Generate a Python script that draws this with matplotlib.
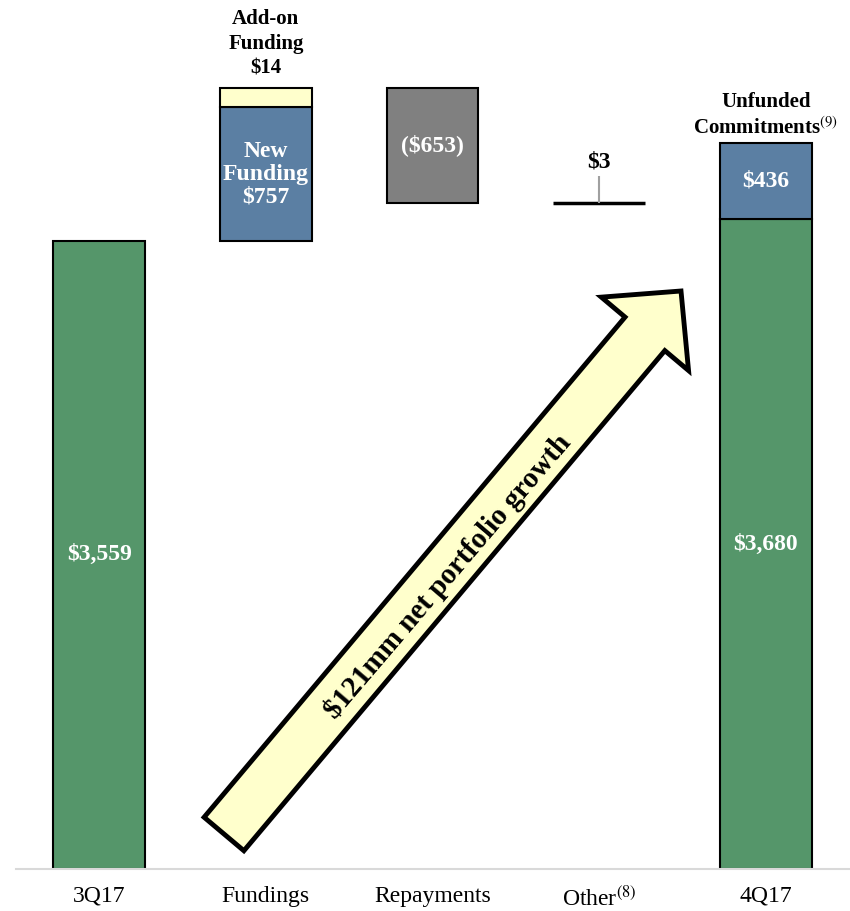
import matplotlib
matplotlib.use("Agg")
import matplotlib.pyplot as plt
from matplotlib.patches import FancyArrow

plt.rcParams['font.family'] = 'Liberation Serif'
plt.rcParams['mathtext.fontset'] = 'stix'

# Data ($mm)
categories = ['3Q17', 'Fundings', 'Repayments', 'Other$^{(8)}$', '4Q17']
start_balance = 3559
new_funding = 757
addon_funding = 14
repayments = -653
other = 3
end_balance = 3680
unfunded = 436

# Colours
green = '#55966A'
blue = '#5B7FA3'
grey = '#808080'
pale = '#FFFFCC'

# add-on slice is drawn taller than its value so it can be seen
addon_h = max(addon_funding, 110)

fund_bottom = start_balance
addon_bottom = start_balance + new_funding
rep_top = addon_bottom + addon_h
rep_bottom = rep_top + repayments
other_level = rep_bottom + other

fig = plt.figure(figsize=(8.5, 9.11), dpi=100)
ax = fig.add_axes([16 / 850, 42 / 911, 833 / 850, 869 / 911])
w = 0.552
ek = dict(edgecolor='black', linewidth=1.5)

ax.bar(0, start_balance, w, color=green, **ek)
ax.bar(1, new_funding, w, bottom=fund_bottom, color=blue, **ek)
ax.bar(1, addon_h, w, bottom=addon_bottom, color=pale, **ek)
ax.bar(2, -repayments, w, bottom=rep_bottom, color=grey, **ek)
ax.hlines(other_level, 3 - w / 2, 3 + w / 2, color='black', linewidth=2.5)
ax.bar(4, end_balance, w, color=green, **ek)
ax.bar(4, unfunded, w, bottom=end_balance, color=blue, **ek)

# labels inside bars
lbl = dict(ha='center', va='center', color='white', fontweight='bold', fontsize=17)
ax.text(0, start_balance / 2, f'${start_balance:,}', **lbl)
ax.text(1, fund_bottom + new_funding / 2, f'New\nFunding\n${new_funding}', linespacing=1.1, **lbl)
ax.text(2, rep_bottom - repayments / 2, f'(${-repayments})', **lbl)
ax.text(4, end_balance / 2, f'${end_balance:,}', **lbl)
ax.text(4, end_balance + unfunded / 2, f'${unfunded}', **lbl)

# labels above bars
ax.annotate(f'Add-on\nFunding\n${addon_funding}', xy=(1, rep_top), xytext=(0, 7),
            textcoords='offset points', ha='center', va='bottom',
            fontsize=15, fontweight='bold', linespacing=1.3)
ax.annotate('Unfunded\nCommitments$^{(9)}$', xy=(4, end_balance + unfunded), xytext=(0, 2.5),
            textcoords='offset points', ha='center', va='bottom',
            fontsize=15, fontweight='bold', linespacing=1.35)
ax.vlines(3, other_level, other_level + 150, color='#A0A0A0', linewidth=1.5)
ax.text(3, other_level + 228, f'${other}', ha='center', va='center',
        fontsize=17, fontweight='bold')

# growth arrow, drawn in inches so it keeps its shape
arrow = FancyArrow(2.24, 0.77, 4.57, 5.43, width=0.52, head_width=1.14,
                   head_length=0.56, length_includes_head=True,
                   facecolor=pale, edgecolor='black', linewidth=3.5,
                   transform=fig.dpi_scale_trans, zorder=5)
fig.patches.append(arrow)
growth = end_balance - start_balance
fig.text(4.48 / 8.5, (911 - 576) / 911, f'${growth}mm net portfolio growth',
         rotation=49.5, ha='center', va='center', fontsize=21, fontweight='bold',
         rotation_mode='anchor', zorder=6)

ax.set_xlim(-0.5, 4.5)
ax.set_ylim(0, 869 / 0.1765)
ax.set_xticks(range(len(categories)))
ax.set_xticklabels(categories, fontsize=17)
ax.tick_params(axis='x', length=0, pad=12)
ax.set_yticks([])
for s in ['top', 'left', 'right']:
    ax.spines[s].set_visible(False)
ax.spines['bottom'].set_color('#D9D9D9')
ax.spines['bottom'].set_linewidth(1.5)

fig.savefig('out.png', dpi=100)
